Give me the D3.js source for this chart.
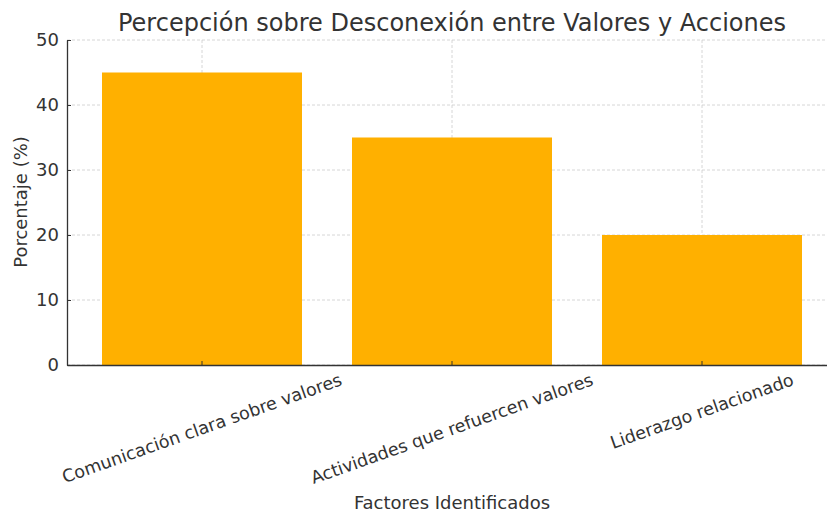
<!DOCTYPE html>
<html>
<head>
<meta charset="utf-8">
<script src="https://cdn.jsdelivr.net/npm/d3@7"></script>
<style>
  body { margin: 0; background: #fff; }
  text { font-family: 'DejaVu Sans', sans-serif; fill: #333; }
  .grid line { stroke: #ccc; stroke-dasharray: 3,2; stroke-width: 0.8; }
</style>
</head>
<body>
<svg id="viewer"></svg>
<script>
// data
var categories = ['Comunicación clara sobre valores', 'Actividades que refuercen valores', 'Liderazgo relacionado'];
var values = [45, 35, 20];
var yTicks = [0, 10, 20, 30, 40, 50];

var W = 827, H = 515;
var mLeft = 67, mRight = 837, mTop = 40, mBottom = 365;

var svg = d3.select('#viewer')
  .attr('width', W)
  .attr('height', H);

var x = d3.scaleBand()
  .domain(categories)
  .range([mLeft, mRight])
  .paddingInner(0.2)
  .paddingOuter(0.14);

var y = d3.scaleLinear()
  .domain([0, 50])
  .range([mBottom, mTop]);

// grid
var grid = svg.append('g').attr('class', 'grid');
grid.selectAll('.hg')
  .data(yTicks)
  .enter().append('line')
    .attr('x1', mLeft).attr('x2', mRight)
    .attr('y1', function(d){ return y(d); })
    .attr('y2', function(d){ return y(d); });
grid.selectAll('.vg')
  .data(categories)
  .enter().append('line')
    .attr('x1', function(d){ return x(d) + x.bandwidth()/2; })
    .attr('x2', function(d){ return x(d) + x.bandwidth()/2; })
    .attr('y1', mTop).attr('y2', mBottom);

// bars
svg.selectAll('.bar')
  .data(values)
  .enter().append('rect')
    .attr('class', 'bar')
    .attr('x', function(d, i){ return x(categories[i]); })
    .attr('width', x.bandwidth())
    .attr('y', function(d){ return y(d); })
    .attr('height', function(d){ return y(0) - y(d); })
    .attr('fill', '#ffb000');

// axes
var yAxis = svg.append('g')
  .attr('transform', 'translate(' + mLeft + ',0)')
  .call(d3.axisLeft(y).tickValues(yTicks).tickSizeInner(-4).tickSizeOuter(0).tickPadding(8));
yAxis.select('.domain').attr('stroke', '#333').attr('stroke-width', 1.3);
yAxis.selectAll('.tick line').attr('stroke', '#333');
yAxis.selectAll('.tick text')
  .style('font-size', '18px')
  .style('font-family', "'DejaVu Sans', sans-serif")
  .attr('fill', '#333');

var xAxis = svg.append('g')
  .attr('transform', 'translate(0,' + mBottom + ')')
  .call(d3.axisBottom(x).tickSizeInner(-4).tickSizeOuter(0));
xAxis.select('.domain').attr('stroke', '#333').attr('stroke-width', 1.3);
xAxis.selectAll('.tick line').attr('stroke', '#333');
xAxis.selectAll('.tick text').remove();

// rotated category labels, centred under each tick
var ang = 19.5, rad = ang * Math.PI / 180;
svg.selectAll('.xlab')
  .data(categories)
  .enter().append('text')
    .attr('class', 'xlab')
    .style('font-size', '17.5px')
    .attr('text-anchor', 'middle')
    .attr('dominant-baseline', 'central')
    .text(function(d){ return d; })
    .each(function(d){
      var len = this.getComputedTextLength();
      var h = 17;
      var bh = len * Math.sin(rad) + h * Math.cos(rad);
      var cx = x(d) + x.bandwidth()/2;
      var cy = mBottom + 6 + bh/2;
      d3.select(this).attr('transform', 'translate(' + cx + ',' + cy + ') rotate(' + (-ang) + ')');
    });

// titles
svg.append('text')
  .attr('x', 452).attr('y', 31)
  .attr('text-anchor', 'middle')
  .style('font-size', '24px')
  .text('Percepción sobre Desconexión entre Valores y Acciones');

svg.append('text')
  .attr('x', 452).attr('y', 509)
  .attr('text-anchor', 'middle')
  .style('font-size', '18px')
  .text('Factores Identificados');

svg.append('text')
  .attr('transform', 'translate(27,202) rotate(-90)')
  .attr('text-anchor', 'middle')
  .style('font-size', '18px')
  .text('Porcentaje (%)');
</script>
</body>
</html>
